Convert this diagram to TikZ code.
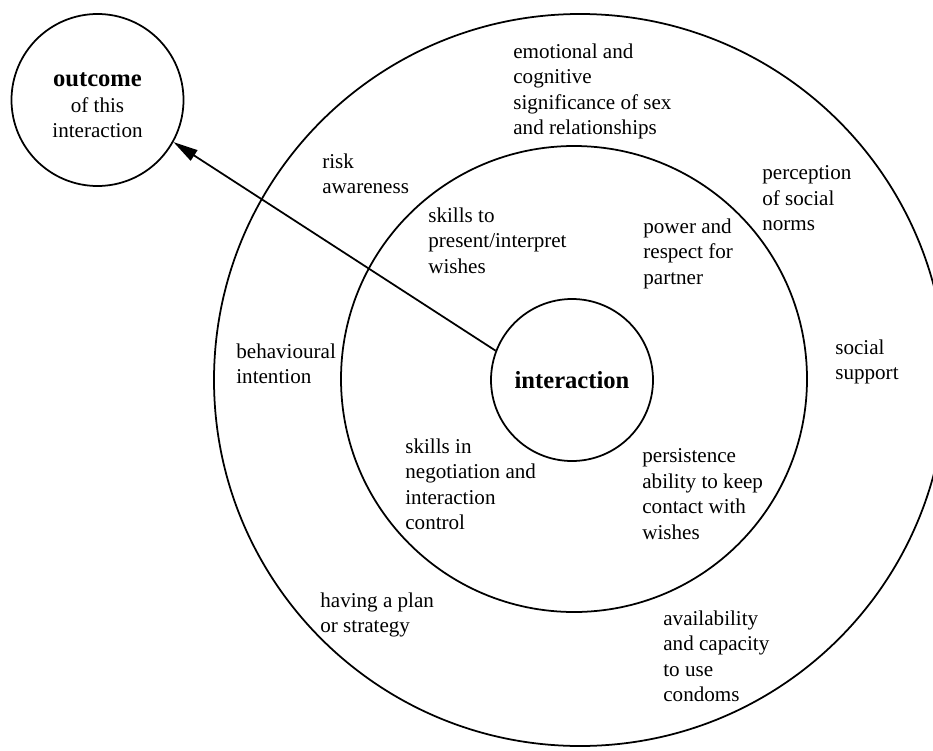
\documentclass[tikz,border=0pt]{standalone}
\usepackage{fontspec}
\setmainfont{Liberation Serif}
\usepackage{tikz}
\usetikzlibrary{arrows.meta}

\begin{document}
\begin{tikzpicture}[font=\fontsize{12}{14.5}\selectfont,
  ring/.style={draw, circle, line width=1pt, inner sep=0pt},
  note/.style={anchor=north west, align=left, inner sep=0pt},
  big/.style={font=\fontsize{14}{16}\selectfont\bfseries}]
\useasboundingbox (0,0) rectangle (18.66,15);
\clip (0,0) rectangle (18.66,15);

% rings round the interaction
\node[ring, minimum size=14.64cm] (outerring) at (11.6,7.4) {};
\node[ring, minimum size=9.32cm] (middlering) at (11.48,7.42) {};
\node[ring, big, minimum size=3.24cm] (interaction) at (11.44,7.4) {interaction};

% outcome
\node[ring, minimum size=3.44cm] (outcome) at (1.95,13) {};
\node[align=center, inner sep=0pt] (outcomelabel) at (1.95,12.89) {{\fontsize{14}{16}\selectfont\bfseries outcome}\\of this\\interaction};

\draw[line width=1pt, -{Triangle[length=14pt,width=7pt]}] (interaction.159) -- (outcome.-29);

% outer ring
\node[note] (emotional) at (10.26,14.13) {emotional and\\cognitive\\significance of sex\\and relationships};
\node[note] (risk) at (6.44,11.93) {risk\\awareness};
\node[note] (perception) at (15.24,11.69) {perception\\of social\\norms};
\node[note] (intention) at (4.72,8.13) {behavioural\\intention};
\node[note] (support) at (16.70,8.21) {social\\support};
\node[note] (plan) at (6.40,3.15) {having a plan\\or strategy};
\node[note] (condoms) at (13.26,2.79) {availability\\and capacity\\to use\\condoms};

% middle ring
\node[note] (present) at (8.56,10.85) {skills to\\present/interpret\\wishes};
\node[note] (power) at (12.86,10.63) {power and\\respect for\\partner};
\node[note] (negotiation) at (8.10,6.23) {skills in\\negotiation and\\interaction\\control};
\node[note] (persistence) at (12.84,6.03) {persistence\\ability to keep\\contact with\\wishes};
\end{tikzpicture}
\end{document}
